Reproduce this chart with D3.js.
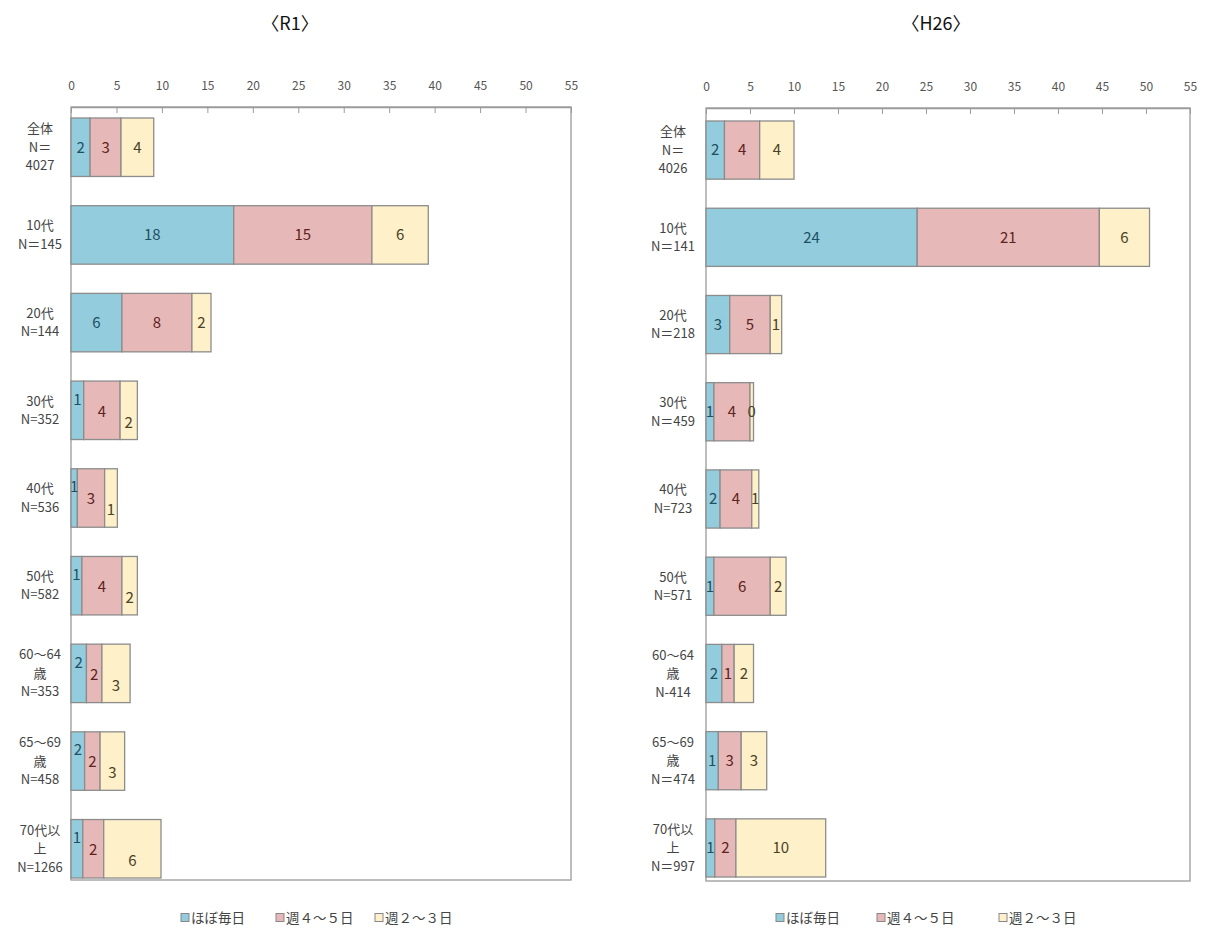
<!DOCTYPE html>
<html>
<head>
<meta charset="utf-8">
<script src="https://cdn.jsdelivr.net/npm/d3@7"></script>
<style>
  html, body { margin: 0; padding: 0; background: #fff; }
  svg { display: block; }
  text { font-family: "Noto Sans CJK JP", "Noto Sans", sans-serif; }
</style>
</head>
<body>
<svg id="chart" width="1206" height="936"></svg>
<script>
// Frequency of use by age group, share (%) of respondents
const seriesNames = ["ほぼ毎日", "週４～５日", "週２～３日"];
const ticks = [0, 5, 10, 15, 20, 25, 30, 35, 40, 45, 50, 55];

const r1Labels = [
  ["全体", "N＝", "4027"], ["10代", "N＝145"], ["20代", "N=144"], ["30代", "N=352"],
  ["40代", "N=536"], ["50代", "N=582"], ["60～64", "歳", "N=353"],
  ["65～69", "歳", "N=458"], ["70代以", "上", "N=1266"]
];
const r1Daily     = [2.1, 17.9, 5.6, 1.4, 0.7, 1.2, 1.7, 1.5, 1.3];
const r1FourFive  = [3.4, 15.2, 7.7, 4.0, 3.0, 4.4, 1.7, 1.7, 2.3];
const r1TwoThree  = [3.6,  6.2, 2.1, 1.9, 1.4, 1.7, 3.1, 2.7, 6.3];

const h26Labels = [
  ["全体", "N＝", "4026"], ["10代", "N＝141"], ["20代", "N＝218"], ["30代", "N＝459"],
  ["40代", "N=723"], ["50代", "N=571"], ["60～64", "歳", "N-414"],
  ["65～69", "歳", "N＝474"], ["70代以", "上", "N＝997"]
];
const h26Daily    = [2.1, 24.0, 2.7, 0.9, 1.6, 0.9, 1.8, 1.4, 1.0];
const h26FourFive = [4.0, 20.7, 4.6, 4.1, 3.6, 6.4, 1.4, 2.6, 2.4];
const h26TwoThree = [3.9,  5.7, 1.3, 0.4, 0.8, 1.8, 2.2, 2.9, 10.2];

const fills = ["#93CDDD", "#E6B9B8", "#FEF0C8"];
const inkColors = ["#1F4F63", "#5E2220", "#4A4128"];

const svg = d3.select("#chart");
const fmt = d3.format(".0f");

function drawPanel(opt) {
  const rows = opt.labels.map((lab, i) => ({
    idx: i, lab,
    [seriesNames[0]]: opt.series[0][i],
    [seriesNames[1]]: opt.series[1][i],
    [seriesNames[2]]: opt.series[2][i]
  }));
  const stacked = d3.stack().keys(seriesNames)(rows);

  const x = d3.scaleLinear().domain([0, 55]).range([opt.left, opt.right]);
  const y = d3.scaleBand().domain(rows.map(r => r.idx))
    .range([opt.barTop, opt.barBottom]).paddingInner(1 / 3).paddingOuter(0);

  const g = svg.append("g");

  // title
  g.append("text").attr("x", opt.titleX).attr("y", 30)
    .attr("text-anchor", "middle").attr("font-size", 18).attr("fill", "#111")
    .text(opt.title);

  // plot frame
  g.append("rect").attr("x", opt.left).attr("y", opt.top)
    .attr("width", opt.right - opt.left).attr("height", opt.bottom - opt.top)
    .attr("fill", "none").attr("stroke", "#9a9a9a").attr("stroke-width", 1.3);

  // top axis, ticks pointing into the plot
  const axis = g.append("g").attr("transform", `translate(0,${opt.top})`)
    .call(d3.axisTop(x).tickValues(ticks).tickSizeInner(-6).tickSizeOuter(0).tickPadding(17));
  axis.select(".domain").attr("stroke", "#9a9a9a").attr("stroke-width", 1.3);
  axis.selectAll(".tick line").attr("stroke", "#9a9a9a");
  axis.selectAll(".tick text").attr("font-size", 12).attr("fill", "#555")
    .attr("font-family", "'Noto Sans', sans-serif");

  // bars
  stacked.forEach((layer, si) => {
    g.append("g").selectAll("rect").data(layer).join("rect")
      .attr("x", d => x(d[0]))
      .attr("y", d => y(d.data.idx))
      .attr("width", d => x(d[1]) - x(d[0]))
      .attr("height", y.bandwidth())
      .attr("fill", fills[si])
      .attr("stroke", "#8c8c8c").attr("stroke-width", 1.3);
  });

  // value labels
  stacked.forEach((layer, si) => {
    g.append("g").selectAll("text").data(layer).join("text")
      .attr("x", d => (x(d[0]) + x(d[1])) / 2)
      .attr("y", d => y(d.data.idx) + y.bandwidth() / 2 +
        (opt.staggerRows.includes(d.data.idx) ? opt.stagger[si] : 0))
      .attr("dy", "0.36em")
      .attr("text-anchor", "middle").attr("font-size", 15)
      .attr("font-family", "'Noto Sans', sans-serif")
      .attr("fill", inkColors[si])
      .text(d => fmt(d[1] - d[0]));
  });

  // category labels
  rows.forEach(r => {
    const n = r.lab.length;
    const cy = y(r.idx) + y.bandwidth() / 2;
    const t = g.append("text").attr("text-anchor", "middle")
      .attr("font-size", 13).attr("fill", "#444");
    r.lab.forEach((line, li) => {
      t.append("tspan").attr("x", opt.labelX)
        .attr("y", cy + (li - (n - 1) / 2) * 18.5)
        .attr("dy", "0.35em").text(line);
    });
  });

  // legend
  const lg = g.append("g").attr("transform", `translate(0,${opt.legendY})`);
  seriesNames.forEach((name, i) => {
    const lx = opt.legendX[i];
    lg.append("rect").attr("x", lx).attr("y", -4.5).attr("width", 8).attr("height", 8)
      .attr("fill", fills[i]).attr("stroke", "#888").attr("stroke-width", 1);
    lg.append("text").attr("x", lx + 10).attr("y", 0).attr("dy", "0.35em")
      .attr("font-size", 13.5).attr("fill", "#444").text(name);
  });
}

drawPanel({
  title: "〈R1〉", titleX: 290,
  labels: r1Labels, series: [r1Daily, r1FourFive, r1TwoThree],
  left: 71, right: 571, top: 107, bottom: 880,
  barTop: 118, barBottom: 878, labelX: 40,
  staggerRows: [3, 4, 5, 6, 7, 8], stagger: [-11, 1, 12],
  legendY: 918, legendX: [181, 276, 375]
});

drawPanel({
  title: "〈H26〉", titleX: 936,
  labels: h26Labels, series: [h26Daily, h26FourFive, h26TwoThree],
  left: 706, right: 1190, top: 108, bottom: 881,
  barTop: 121, barBottom: 877, labelX: 673,
  staggerRows: [], stagger: [0, 0, 0],
  legendY: 918, legendX: [776, 877, 999]
});
</script>
</body>
</html>
